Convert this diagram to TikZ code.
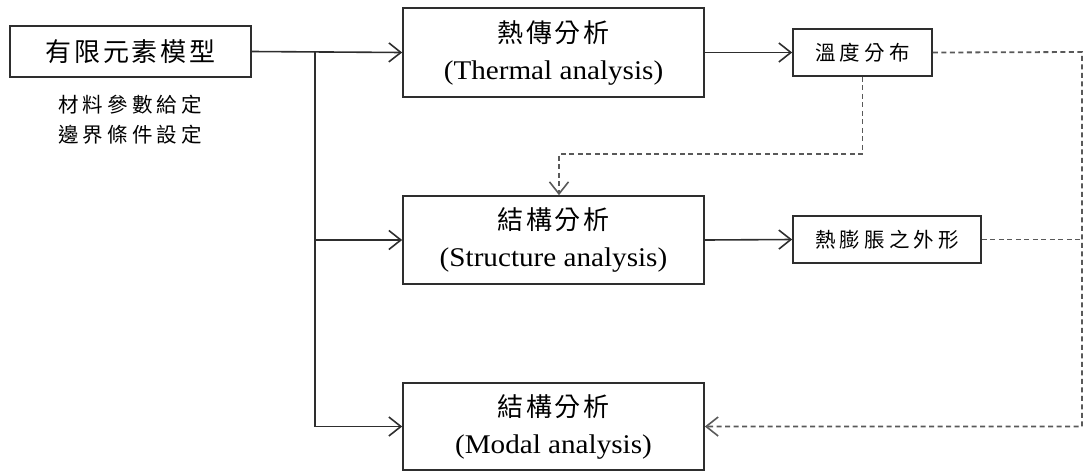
\documentclass[tikz,border=0pt]{standalone}
\usepackage{fontspec}
\usetikzlibrary{arrows.meta,calc}
\newfontfamily\enfont{Liberation Serif}[FakeStretch=1.08]
\newfontfamily\cjkbig{Noto Sans CJK TC}[LetterSpace=11]
\newfontfamily\cjksmall{Noto Sans CJK TC}[LetterSpace=20]
\newcommand\bigzh[1]{{\cjkbig\fontsize{26}{30}\selectfont #1}}
\newcommand\smallzh[1]{{\cjksmall\fontsize{20.5}{30}\selectfont #1}}
\definecolor{edge}{gray}{0.18}
\definecolor{dashgray}{gray}{0.35}
\tikzset{
  box/.style={draw=edge, line width=1.7pt, fill=white, inner sep=0pt, align=center,
              font={\enfont\fontsize{27}{37}\selectfont}},
  flow/.style={draw=edge, line width=1.6pt,
               -{Straight Barb[length=12pt,width=19pt,line width=1.6pt]}},
  feedback/.style={draw=dashgray, line width=1.8pt, dash pattern=on 5pt off 3.5pt},
  feedarrow/.style={feedback, -{Straight Barb[length=12pt,width=19pt,line width=1.6pt]}},
}
\begin{document}
\begin{tikzpicture}[x=1pt,y=-1pt]
  \useasboundingbox (0,0) rectangle (1086,472);

  % model set-up
  \node[box, minimum width=241pt, minimum height=51pt] (fem) at (130.5,51.5)
    {\bigzh{有限元素模型}};
  \node[align=center, inner sep=0pt, font={\fontsize{20}{30}\selectfont}] (setup) at (130,120)
    {\smallzh{材料參數給定}\\\smallzh{邊界條件設定}};

  % analyses
  \node[box, minimum width=301pt, minimum height=89pt] (therm) at (553.5,52.5)
    {\bigzh{熱傳分析}\\(Thermal analysis)};
  \node[box, minimum width=301pt, minimum height=88pt] (struct) at (553.5,240)
    {\bigzh{結構分析}\\(Structure analysis)};
  \node[box, minimum width=301pt, minimum height=87pt] (modal) at (553.5,426.5)
    {\bigzh{結構分析}\\(Modal analysis)};

  % results
  \node[box, minimum width=139pt, minimum height=47pt] (tdist) at (862.5,52.5)
    {\smallzh{溫度分布}};
  \node[box, minimum width=188pt, minimum height=47pt] (shape) at (887,239.5)
    {\smallzh{熱膨脹之外形}};

  % distribution from the model
  \coordinate (split) at (315,52);
  \coordinate (rail) at (1082,52);
  \draw[flow] (fem.east) -- (therm.west);
  \draw[flow] (split) |- (struct.west);
  \draw[flow] (split) |- (modal.west);

  % results of each analysis
  \draw[flow] (therm.east) -- (tdist.west);
  \draw[flow] (struct.east) -- (shape.west);

  % feedback paths
  \draw[feedarrow] (tdist.south) -- ++(0,77) -| ([xshift=5.5pt]struct.north);
  \draw[feedarrow] (tdist.east) -- (rail) |- (modal.east);
  \draw[feedback] (shape.east) -- (shape.east -| rail);
\end{tikzpicture}
\end{document}
